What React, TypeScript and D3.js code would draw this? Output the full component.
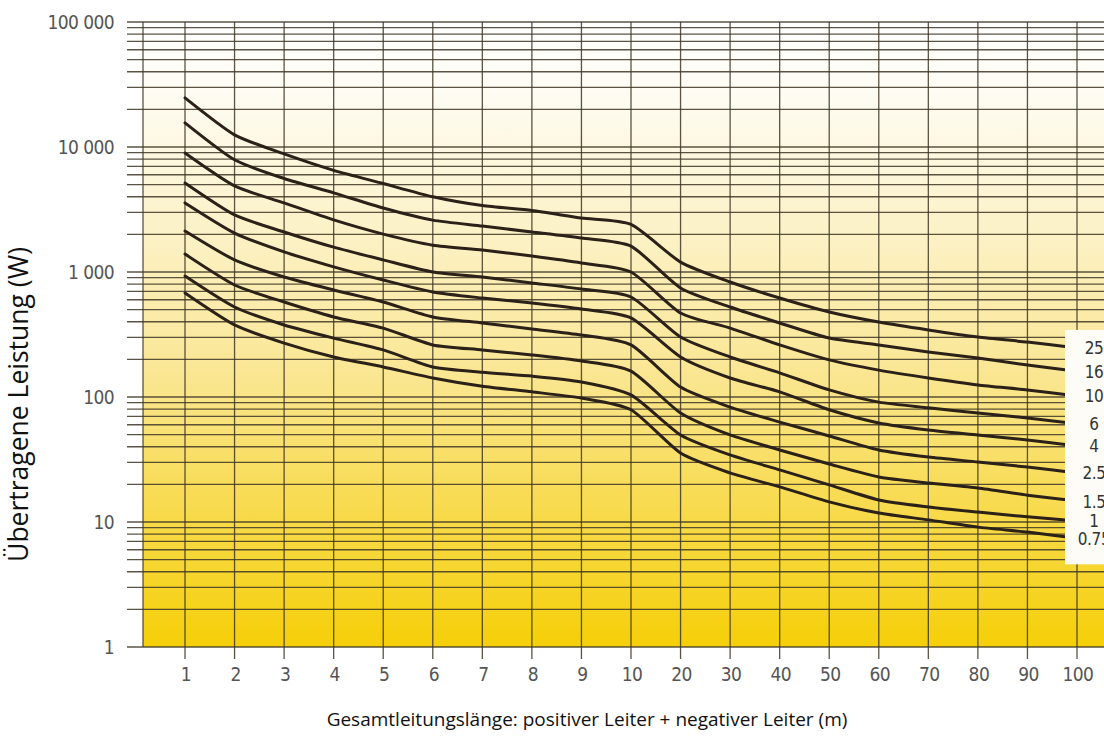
import * as d3 from "d3";

// Leitungslänge (m) – x categories
const lengths = [1, 2, 3, 4, 5, 6, 7, 8, 9, 10, 20, 30, 40, 50, 60, 70, 80, 90, 100];
const xTickLabels = ["1", "2", "3", "4", "5", "6", "7", "8", "9", "10", "20", "30", "40", "50", "60", "70", "80", "90", "100"];

// Leistung (W) – log ticks
const yTicks = [1, 10, 100, 1000, 10000, 100000];
const yTickLabels = ["1", "10", "100", "1 000", "10 000", "100 000"];

// Querschnitte (mm²)
const sections = ["25", "16", "10", "6", "4", "2.5", "1.5", "1", "0.75"];

// übertragene Leistung pro Querschnitt
const p25 = [24700, 12500, 8800, 6500, 5100, 4000, 3400, 3100, 2700, 2400, 1200, 832, 619, 479, 398, 344, 302, 275, 247];
const p16 = [15600, 7900, 5600, 4300, 3250, 2600, 2330, 2090, 1870, 1610, 745, 525, 391, 296, 261, 229, 205, 180, 161];
const p10 = [8950, 4880, 3570, 2610, 2010, 1640, 1500, 1340, 1180, 1000, 470, 356, 261, 198, 164, 142, 125, 114, 102];
const p6 = [5150, 2860, 2090, 1580, 1250, 1000, 912, 817, 731, 631, 302, 209, 156, 114, 91, 82, 74.5, 68, 61];
const p4 = [3570, 2050, 1450, 1100, 863, 692, 619, 565, 506, 429, 209, 142, 110, 79, 62, 54.5, 49.7, 45.3, 40.6];
const p2_5 = [2130, 1250, 912, 718, 575, 437, 391, 350, 313, 261, 120, 83, 63, 48.8, 37.7, 33.1, 30.2, 27.5, 24.7];
const p1_5 = [1390, 787, 575, 437, 356, 261, 238, 217, 194, 161, 74.5, 49.7, 37.7, 29.1, 22.9, 20.5, 18.7, 16.4, 14.7];
const p1 = [929, 525, 377, 296, 238, 174, 158, 147, 132, 104, 49.7, 34.4, 26.1, 19.8, 15, 13.2, 12, 11, 10.2];
const p0_75 = [679, 377, 270, 209, 174, 142, 122, 110, 98, 79, 35.6, 24.7, 19.1, 14.5, 11.8, 10.4, 9.1, 8.3, 7.4];

const curves = [p25, p16, p10, p6, p4, p2_5, p1_5, p1, p0_75];

const W = 1104;
const H = 736;
const plotLeft = 143;
const gridLeft = 127;
const tickFont = "'DejaVu Sans Condensed', 'Liberation Sans Narrow', sans-serif";
const titleFont = "'Open Sans', 'Noto Sans', sans-serif";
const gridColor = "#3e3626";

export default function App() {
  const x = d3.scaleLinear().domain([1, 10, 100]).range([185, 631, 1077]);
  const y = d3.scaleLog().domain([1, 100000]).range([647, 22]);

  // 1..9 x 10^k grid
  const hLines = d3.range(0, 5).flatMap((k) => d3.range(1, 10).map((m) => m * Math.pow(10, k))).concat([100000]);

  const line = d3
    .line<number>()
    .x((d, i) => x(lengths[i]))
    .y((d) => y(d))
    .curve(d3.curveCardinal.tension(0.35));

  const top = y(100000);
  const bottom = y(1);
  const lastTop = y(p25[p25.length - 1]);
  const lastBottom = y(p0_75[p0_75.length - 1]);

  return (
    <svg width={W} height={H} style={{ position: "absolute", left: 0, top: 0, background: "#fff" }}>
      <defs>
        <linearGradient id="bg" x1="0" y1={top} x2="0" y2={bottom} gradientUnits="userSpaceOnUse">
          <stop offset="0%" stopColor="#ffffff" />
          <stop offset="12%" stopColor="#fefcf2" />
          <stop offset="33%" stopColor="#fcf2c8" />
          <stop offset="55%" stopColor="#fae796" />
          <stop offset="75%" stopColor="#f8dc56" />
          <stop offset="100%" stopColor="#f5cf08" />
        </linearGradient>
      </defs>

      <rect x={plotLeft} y={top} width={W - plotLeft} height={bottom - top} fill="url(#bg)" />

      {/* horizontal grid */}
      <g stroke={gridColor} strokeOpacity={0.85} strokeWidth={1.3}>
        {hLines.map((v) => (
          <line key={v} x1={gridLeft} x2={W} y1={y(v)} y2={y(v)} />
        ))}
      </g>

      {/* vertical grid + stubs below */}
      <g stroke={gridColor} strokeOpacity={0.85} strokeWidth={1.3}>
        <line x1={plotLeft} x2={plotLeft} y1={top} y2={bottom} />
        {lengths.map((d) => (
          <line key={d} x1={x(d)} x2={x(d)} y1={top} y2={bottom + 12} />
        ))}
      </g>

      {/* y tick labels */}
      <g fontFamily={tickFont} fontSize={19} fill="#555" textAnchor="end" letterSpacing={-0.6}>
        {yTicks.map((v, i) => (
          <text key={v} x={114} y={y(v)} dy="0.36em">
            {yTickLabels[i]}
          </text>
        ))}
      </g>

      {/* x tick labels */}
      <g fontFamily={tickFont} fontSize={19} fill="#555" textAnchor="middle" letterSpacing={-0.6}>
        {lengths.map((d, i) => (
          <text key={d} x={x(d) + 1} y={681}>
            {xTickLabels[i]}
          </text>
        ))}
      </g>

      {/* curves */}
      <g fill="none" stroke="#2b2118" strokeWidth={3} strokeLinejoin="round" strokeLinecap="round">
        {curves.map((c, i) => (
          <path key={sections[i]} d={line(c) || ""} />
        ))}
      </g>

      {/* section labels */}
      <rect x={1065} y={lastTop - 18} width={W - 1065} height={lastBottom - lastTop + 44} fill="#fdfcf6" />
      <g fontFamily={tickFont} fontSize={17} fill="#333" textAnchor="middle" letterSpacing={-0.4}>
        {curves.map((c, i) => (
          <text key={sections[i]} x={1094} y={y(c[c.length - 1])} dy="0.38em">
            {sections[i]}
          </text>
        ))}
      </g>

      {/* axis titles */}
      <text
        transform={`translate(28,${(top + bottom) / 2 + 70}) rotate(-90)`}
        textAnchor="middle"
        fontFamily={titleFont}
        fontSize={26.5}
        fill="#111"
      >
        Übertragene Leistung (W)
      </text>
      <text x={587} y={726} textAnchor="middle" fontFamily={titleFont} fontSize={19} fill="#111">
        Gesamtleitungslänge: positiver Leiter + negativer Leiter (m)
      </text>
    </svg>
  );
}
